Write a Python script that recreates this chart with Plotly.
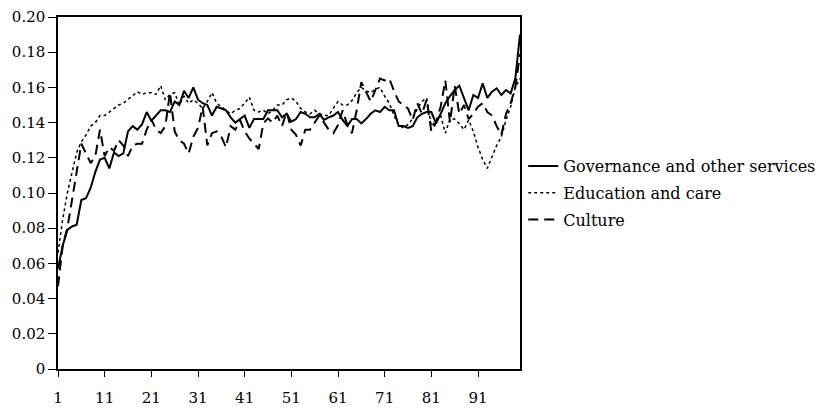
import plotly.graph_objects as go

x_vals = list(range(1, 101))

governance = [
    0.057, 0.070, 0.079, 0.081, 0.082, 0.096, 0.097, 0.103, 0.112, 0.119,
    0.120, 0.114, 0.123, 0.121, 0.1225, 0.135, 0.138, 0.136, 0.139, 0.146,
    0.141, 0.144, 0.147, 0.147, 0.146, 0.152, 0.150, 0.158, 0.154, 0.160,
    0.153, 0.151, 0.150, 0.144, 0.149, 0.148, 0.147, 0.143, 0.140, 0.142,
    0.144, 0.137, 0.142, 0.142, 0.142, 0.147, 0.147, 0.147, 0.143, 0.145,
    0.1405, 0.142, 0.146, 0.145, 0.143, 0.143, 0.145, 0.1415, 0.143, 0.144,
    0.146, 0.1415, 0.138, 0.142, 0.142, 0.1395, 0.142, 0.145, 0.147, 0.146,
    0.149, 0.147, 0.147, 0.138, 0.138, 0.137, 0.138, 0.143, 0.145, 0.146,
    0.146, 0.1395, 0.145, 0.151, 0.155, 0.1585, 0.161, 0.154, 0.147, 0.1557,
    0.154, 0.1623, 0.154, 0.1576, 0.1595, 0.1557, 0.1585, 0.1566, 0.165, 0.190,
]

education = [
    0.066, 0.085, 0.100, 0.112, 0.123, 0.129, 0.133, 0.138, 0.140, 0.144,
    0.144, 0.146, 0.148, 0.150, 0.151, 0.153, 0.155, 0.1575, 0.156, 0.157,
    0.157, 0.156, 0.161, 0.153, 0.156, 0.157, 0.150, 0.155, 0.151, 0.153,
    0.151, 0.148, 0.152, 0.157, 0.151, 0.149, 0.147, 0.145, 0.147, 0.148,
    0.151, 0.1545, 0.147, 0.146, 0.147, 0.145, 0.147, 0.150, 0.150, 0.153,
    0.154, 0.152, 0.148, 0.146, 0.145, 0.147, 0.145, 0.144, 0.144, 0.148,
    0.152, 0.150, 0.150, 0.1525, 0.157, 0.160, 0.158, 0.157, 0.159, 0.160,
    0.155, 0.151, 0.144, 0.1386, 0.137, 0.139, 0.142, 0.148, 0.152, 0.154,
    0.138, 0.141, 0.144, 0.134, 0.142, 0.142, 0.1395, 0.136, 0.1415, 0.135,
    0.126, 0.119, 0.114, 0.1206, 0.127, 0.132, 0.1415, 0.149, 0.160, 0.165,
]

culture = [
    0.047, 0.070, 0.080, 0.095, 0.112, 0.128, 0.1225, 0.117, 0.121, 0.136,
    0.121, 0.126, 0.124, 0.130, 0.127, 0.121, 0.127, 0.128, 0.128, 0.136,
    0.142, 0.136, 0.134, 0.138, 0.157, 0.135, 0.130, 0.128, 0.1225, 0.132,
    0.137, 0.149, 0.127, 0.134, 0.135, 0.132, 0.126, 0.138, 0.136, 0.1415,
    0.135, 0.131, 0.128, 0.125, 0.1395, 0.1424, 0.140, 0.144, 0.138, 0.146,
    0.136, 0.133, 0.127, 0.136, 0.136, 0.140, 0.144, 0.140, 0.136, 0.134,
    0.1386, 0.147, 0.1386, 0.134, 0.147, 0.163, 0.157, 0.152, 0.1585, 0.165,
    0.164, 0.165, 0.158, 0.152, 0.150, 0.148, 0.1415, 0.151, 0.145, 0.153,
    0.135, 0.140, 0.149, 0.164, 0.140, 0.161, 0.145, 0.150, 0.142, 0.145,
    0.149, 0.151, 0.146, 0.144, 0.138, 0.133, 0.145, 0.151, 0.160, 0.179,
]

series_names = ["Governance and other services", "Education and care", "Culture"]

x_tick_vals = [1, 11, 21, 31, 41, 51, 61, 71, 81, 91]
y_tick_vals = [0, 0.02, 0.04, 0.06, 0.08, 0.10, 0.12, 0.14, 0.16, 0.18, 0.20]
y_tick_text = ["0", "0.02", "0.04", "0.06", "0.08", "0.10", "0.12", "0.14", "0.16", "0.18", "0.20"]

fig = go.Figure()
fig.add_trace(go.Scatter(x=x_vals, y=governance, mode="lines", name=series_names[0],
                         legendgroup="g1",
                         line=dict(color="black", width=2, dash="solid")))
fig.add_trace(go.Scatter(x=x_vals, y=education, mode="lines", name=series_names[1],
                         legendgroup="g2",
                         line=dict(color="black", width=1.5, dash="3px,3px")))
fig.add_trace(go.Scatter(x=x_vals, y=culture, mode="lines", name=series_names[2],
                         legendgroup="g3",
                         line=dict(color="black", width=2, dash="10px,6px")))

font_family = "DejaVu Serif"

fig.update_layout(
    width=827, height=410,
    margin=dict(l=58, r=307, t=17, b=41, autoexpand=False),
    paper_bgcolor="white", plot_bgcolor="white",
    font=dict(family=font_family, size=15, color="black"),
    showlegend=True,
    legend=dict(
        x=1.007, y=0.50, xanchor="left", yanchor="middle",
        font=dict(family=font_family, size=16, color="black"),
        bgcolor="rgba(0,0,0,0)", borderwidth=0,
        tracegroupgap=3, itemwidth=30,
    ),
    xaxis=dict(
        range=[1, 100], tickmode="array", tickvals=x_tick_vals,
        ticks="outside", ticklen=6, tickwidth=1.2, tickcolor="black",
        showline=True, linecolor="black", linewidth=1.5, mirror=True,
        showgrid=False, zeroline=False, automargin=False,
        tickfont=dict(family=font_family, size=15, color="black"),
        ticklabelstandoff=8,
    ),
    yaxis=dict(
        range=[0, 0.20], tickmode="array", tickvals=y_tick_vals, ticktext=y_tick_text,
        ticks="outside", ticklen=8, tickwidth=1.2, tickcolor="black",
        showline=True, linecolor="black", linewidth=1.5, mirror=True,
        showgrid=False, zeroline=False, automargin=False,
        tickfont=dict(family=font_family, size=15, color="black"),
    ),
)

fig.write_html("out.html")
